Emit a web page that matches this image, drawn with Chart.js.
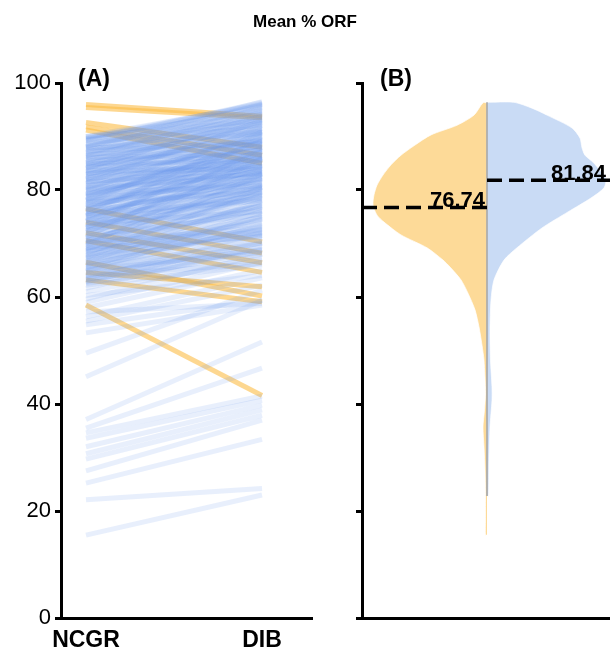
<!DOCTYPE html>
<html>
<head>
<meta charset="utf-8">
<script src="https://cdn.jsdelivr.net/npm/chart.js@4.4.1/dist/chart.umd.min.js"></script>
<style>
html,body{margin:0;padding:0;background:#fff;}
#wrap{position:relative;width:610px;height:653px;}
#wrap canvas{position:absolute;left:0;top:0;}
</style>
</head>
<body>
<div id="wrap">
  <canvas id="chartA" width="610" height="653"></canvas>
  <canvas id="chartB" width="610" height="653"></canvas>
</div>
<script>
// ---- data ----
const groups=["NCGR","DIB"];
const yTicks=[0,20,40,60,80,100];
const title="Mean % ORF";
const panelLabels=["(A)","(B)"];

// paired values per sample, NCGR -> DIB
const ncgr=[
 96.0,95.4,92.6,91.8,91.2,58.5,63.2,64.6,66.5,70.5,72.0,74.0,76.5,
 15.5,22.1,25.2,27.5,29.7,30.7,32.0,33.6,34.6,35.5,37.1,45.1,49.5,53.3,54.8,55.5,56.3,57.2,58.0,59.0,
 59.6,60.3,61.0,61.6,62.2,62.8,63.3,63.8,
 64.2,64.6,65.0,65.4,65.8,66.2,66.6,67.0,67.3,67.7,
 68.0,68.4,68.7,69.0,69.3,69.6,69.9,70.2,70.5,70.8,
 71.1,71.4,71.7,72.0,72.3,72.6,72.9,73.2,73.5,73.8,
 74.1,74.4,74.7,75.0,75.3,75.6,75.9,76.2,76.5,76.8,
 77.1,77.4,77.7,78.0,78.3,78.6,78.9,79.2,79.5,79.8,
 80.1,80.4,80.7,81.0,81.3,81.6,81.9,82.2,82.5,82.8,
 83.1,83.4,83.7,84.0,84.3,84.6,84.9,85.2,85.5,85.8,
 86.1,86.4,86.7,87.0,87.3,87.6,87.9,88.2,88.5,88.8,
 89.1,89.4,89.7,90.0,
 74.0,76.0,78.0,80.0,82.0,83.0,79.0,77.0,75.5,73.0,
 71.0,81.5,84.5,86.5,85.0,87.5,88.0,89.5,90.0,86.0,
 84.8,83.5,82.5,80.5,79.3,78.2,76.8,75.2,74.3,72.8,
 70.0,68.5,67.5,66.0,65.2,69.2,70.4,
 62.5,63.0,63.5,64.0,64.8,65.6,66.4,67.2,68.2,69.1,
 70.1,71.2,72.1,73.1,74.2,75.1,76.1,77.2,78.1,79.1,
 80.2,81.2,82.1,83.2,84.1,85.1,86.2,87.1,88.1,89.2,
 89.6,89.9,88.6,87.8,86.8,85.6,84.2,83.8,82.9,81.8,
 80.8,79.8,78.8,77.8,76.6,75.8,74.8,73.6,72.4,71.6,
 70.6,69.6,68.8,67.8,66.8,65.9,64.9,64.0,63.2,62.6
];
const dib=[
 93.8,93.5,88.0,86.5,85.0,41.6,59.1,61.9,60.2,64.6,66.4,68.2,70.3,
 23.0,24.2,33.4,37.0,37.9,38.9,39.8,40.7,41.5,46.7,51.6,59.4,61.3,58.5,59.4,62.2,63.6,58.8,65.0,66.5,
 68.0,64.0,67.0,69.5,66.0,70.5,68.0,72.0,
 69.0,73.5,71.0,76.0,70.0,74.5,78.0,72.5,80.5,75.0,
 71.5,77.5,83.0,74.0,79.0,86.0,76.5,73.0,81.0,78.5,
 88.0,75.5,82.5,79.5,84.5,77.0,90.0,80.0,83.5,76.0,
 86.5,81.5,79.0,84.0,91.0,78.0,82.0,87.5,80.5,85.0,
 83.0,92.0,79.5,84.5,81.5,88.5,83.5,86.0,80.8,90.5,
 84.0,82.5,87.0,85.5,93.0,83.0,86.5,89.0,84.5,91.5,
 85.0,87.5,83.9,94.0,86.0,89.5,85.5,92.0,87.0,90.0,
 86.5,93.5,88.0,95.0,89.0,91.0,88.5,94.5,90.5,92.5,
 95.5,91.5,96.2,93.0,
 78.5,81.0,82.0,83.2,85.8,88.2,84.8,82.8,80.2,78.2,
 77.0,84.2,88.8,90.8,89.3,92.2,96.5,94.2,96.0,95.5,
 93.2,92.8,90.2,88.0,87.8,86.8,83.8,82.2,80.6,81.2,
 79.8,74.8,73.8,72.8,68.2,71.2,72.0,
 67.2,69.0,71.5,70.0,75.2,72.2,76.8,74.6,79.6,77.8,
 82.2,80.6,85.6,83.0,87.2,85.8,89.2,86.2,89.6,88.8,
 90.8,89.8,92.6,91.2,93.6,94.6,92.4,93.8,95.2,96.4,
 95.8,94.8,93.2,96.0,94.2,91.6,90.6,89.2,87.6,88.4,
 86.2,85.2,87.2,83.6,84.6,81.8,83.2,79.2,80.2,78.8,
 76.2,75.6,72.6,77.2,71.8,73.2,68.8,66.2,70.2,68.6
];
const ncgrMean=76.74;
const dibMean=81.84;

// half-violin outlines: value level and relative density (half width)
const ncgrViolinY=[96.3,94.0,92.1,90.3,88.4,86.5,84.7,82.8,80.9,79.1,77.2,75.3,74.0,71.6,69.2,66.9,65.6,63.2,60.7,57.6,54.4,51.0,48.2,42.1,38.9,35.7,32.0,27.7,23.4,18.3,15.5];
const ncgrViolinW=[0.04,0.13,0.30,0.56,0.72,0.86,0.96,1.04,1.10,1.13,1.14,1.10,1.03,0.86,0.60,0.44,0.37,0.26,0.19,0.12,0.08,0.05,0.03,0.015,0.025,0.04,0.03,0.02,0.015,0.015,0.015];
const dibViolinY=[96.4,95.3,94.0,91.6,89.7,87.9,86.5,85.2,83.7,82.2,80.4,78.5,75.9,72.9,69.2,66.9,63.2,59.4,53.8,48.2,43.2,40.7,35.7,29.5,22.8];
const dibViolinW=[0.27,0.45,0.60,0.85,0.93,0.95,0.98,1.06,1.13,1.19,1.17,1.04,0.81,0.55,0.30,0.17,0.07,0.04,0.03,0.035,0.05,0.05,0.03,0.02,0.015];

// ---- style ----
const FONT="'Liberation Sans', Arial, Helvetica, sans-serif";
const ORANGE_LINE="rgba(252,188,70,0.6)";
const BLUE_LINE="rgba(100,149,237,0.15)";
const ORANGE_FILL="#FDDA98";
const BLUE_FILL="#C9DBF5";

const yTickSet=s=>{ s.ticks=yTicks.map(v=>({value:v})); };
const yGrid={drawOnChartArea:false,drawTicks:true,tickLength:6,tickWidth:3,color:"#000"};
const axisBorder={display:true,color:"#000",width:3};

// ---- panel A: paired lines ----
const pairSets=ncgr.map((v,i)=>{
  const down=dib[i]<v;
  return {
    data:[{x:0,y:v},{x:1,y:dib[i]}],
    borderColor:down?ORANGE_LINE:BLUE_LINE,
    borderWidth:5, pointRadius:0, borderCapStyle:"butt",
    order:down?1:0
  };
});

const textA={
  id:"textA",
  afterDraw(chart){
    const ctx=chart.ctx;
    ctx.save();
    ctx.fillStyle="#000";
    ctx.textBaseline="alphabetic";
    ctx.font="bold 17px "+FONT;
    ctx.textAlign="center";
    ctx.fillText(title,305,27);
    ctx.font="bold 23px "+FONT;
    ctx.textAlign="left";
    ctx.fillText(panelLabels[0],78,86);
    ctx.restore();
  }
};

new Chart(document.getElementById("chartA"),{
  type:"line",
  data:{datasets:pairSets},
  options:{
    responsive:false, animation:false, devicePixelRatio:1,
    layout:{padding:{top:83,right:298,left:0,bottom:0}},
    plugins:{legend:{display:false},tooltip:{enabled:false}},
    scales:{
      x:{type:"linear",min:-0.142,max:1.284,
        afterBuildTicks:s=>{ s.ticks=[0,1].map(v=>({value:v})); },
        ticks:{callback:(v,i)=>groups[i],font:{family:FONT,size:23,weight:"bold"},color:"#000",padding:9,autoSkip:false,maxRotation:0},
        grid:{display:false,drawTicks:false},
        border:axisBorder,
        afterFit:s=>{ s.height=35; }
      },
      y:{type:"linear",min:0,max:100,
        afterBuildTicks:yTickSet,
        ticks:{font:{family:FONT,size:22},color:"#000",padding:4},
        grid:yGrid,
        border:axisBorder,
        afterFit:s=>{ s.width=61; }
      }
    }
  },
  plugins:[textA]
});

// ---- panel B: split violin ----
function halfViolin(ys,ws,side){
  const pts=[{x:0,y:ys[0]}];
  ys.forEach((y,i)=>pts.push({x:side*ws[i],y:y}));
  pts.push({x:0,y:ys[ys.length-1]});
  return pts;
}

const textB={
  id:"textB",
  afterDraw(chart){
    const {ctx,scales:{x,y}}=chart;
    ctx.save();
    ctx.fillStyle="#000";
    ctx.textBaseline="alphabetic";
    ctx.font="bold 23px "+FONT;
    ctx.textAlign="left";
    ctx.fillText(panelLabels[1],380,86);
    ctx.font="bold 22px "+FONT;
    ctx.textAlign="right";
    ctx.fillText(ncgrMean.toFixed(2),x.getPixelForValue(-0.02),y.getPixelForValue(ncgrMean));
    ctx.textAlign="left";
    ctx.fillText(dibMean.toFixed(2),x.getPixelForValue(0.64),y.getPixelForValue(dibMean));
    ctx.restore();
  }
};

new Chart(document.getElementById("chartB"),{
  type:"line",
  data:{datasets:[
    {data:[{x:-1.25,y:ncgrMean},{x:0,y:ncgrMean}],borderColor:"#000",borderWidth:3.5,borderDash:[15,7],pointRadius:0},
    {data:[{x:0,y:dibMean},{x:1.23,y:dibMean}],borderColor:"#000",borderWidth:3.5,borderDash:[15,7],pointRadius:0},
    {data:[{x:0,y:dibViolinY[0]},{x:0,y:dibViolinY[dibViolinY.length-1]}],borderColor:"rgba(170,170,170,0.85)",borderWidth:2,pointRadius:0},
    {data:halfViolin(dibViolinY,dibViolinW,1),borderColor:"rgba(255,255,255,0.7)",borderWidth:1,backgroundColor:BLUE_FILL,fill:"shape",tension:0.25,pointRadius:0},
    {data:halfViolin(ncgrViolinY,ncgrViolinW,-1),borderColor:"rgba(255,255,255,0.7)",borderWidth:1,backgroundColor:ORANGE_FILL,fill:"shape",tension:0.25,pointRadius:0}
  ]},
  options:{
    responsive:false, animation:false, devicePixelRatio:1,
    layout:{padding:{top:83,right:0,left:0,bottom:0}},
    plugins:{legend:{display:false},tooltip:{enabled:false}},
    scales:{
      x:{type:"linear",min:-1.25,max:1.23,
        ticks:{display:false},
        grid:{display:false,drawTicks:false},
        border:axisBorder,
        afterFit:s=>{ s.height=35; }
      },
      y:{type:"linear",min:0,max:100,
        afterBuildTicks:yTickSet,
        ticks:{display:false},
        grid:yGrid,
        border:axisBorder,
        afterFit:s=>{ s.width=362; }
      }
    }
  },
  plugins:[textB]
});
</script>
</body>
</html>
